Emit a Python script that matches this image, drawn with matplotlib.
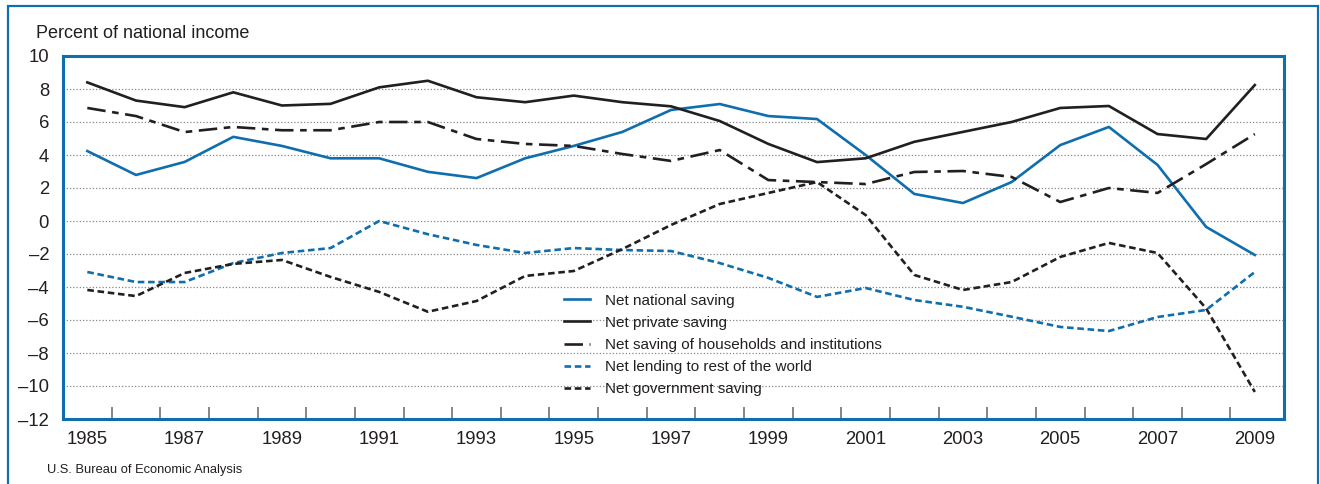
import matplotlib.pyplot as plt
import matplotlib.font_manager as fm
from matplotlib.patches import Rectangle
import numpy as np

# data (percent of national income)
years = list(range(1985, 2010))
net_national = [4.24, 2.79, 3.58, 5.10, 4.55, 3.80, 3.80, 2.98, 2.60, 3.80, 4.55, 5.40,
                6.73, 7.09, 6.36, 6.18, 4.00, 1.64, 1.09, 2.36, 4.60, 5.70, 3.40, -0.36, -2.06]
net_private = [8.40, 7.30, 6.90, 7.80, 7.00, 7.10, 8.10, 8.50, 7.50, 7.20, 7.60, 7.20,
               6.95, 6.06, 4.67, 3.57, 3.80, 4.80, 5.40, 6.00, 6.85, 6.97, 5.27, 4.97, 8.24]
net_households = [6.85, 6.36, 5.39, 5.70, 5.50, 5.50, 6.00, 6.00, 4.97, 4.67, 4.55, 4.06,
                  3.64, 4.30, 2.48, 2.36, 2.24, 2.97, 3.03, 2.67, 1.15, 2.00, 1.70, 3.45, 5.27]
net_lending = [-3.09, -3.70, -3.70, -2.55, -1.94, -1.64, 0.00, -0.80, -1.45, -1.94, -1.64, -1.76,
               -1.82, -2.55, -3.45, -4.60, -4.06, -4.79, -5.20, -5.80, -6.42, -6.67, -5.82, -5.39, -3.09]
net_government = [-4.18, -4.55, -3.15, -2.60, -2.36, -3.39, -4.30, -5.50, -4.85, -3.33, -3.03, -1.70,
                   -0.24, 1.03, 1.70, 2.36, 0.36, -3.27, -4.18, -3.70, -2.18, -1.33, -1.94, -5.30, -10.36]
series_labels = ['Net national saving', 'Net private saving',
                 'Net saving of households and institutions',
                 'Net lending to rest of the world', 'Net government saving']
y_ticks = list(range(-12, 11, 2))
x_labels = list(range(1985, 2010, 2))

BLUE = '#0f6eae'
BLACK = '#231f20'

installed = {f.name for f in fm.fontManager.ttflist}
narrow = 'Liberation Sans Narrow' if 'Liberation Sans Narrow' in installed else 'Liberation Sans'
plt.rcParams['font.family'] = ['Liberation Sans', 'DejaVu Sans']

fig = plt.figure(figsize=(13.2, 4.84), dpi=100)
ax = fig.add_axes([63 / 1320, 1 - 419 / 484, (1284 - 63) / 1320, (419 - 56) / 484])

# outer frame of the figure panel
fig.patches.append(Rectangle((8 / 1320, -0.05), (1318 - 8) / 1320, 1.05 - 6 / 484,
                             transform=fig.transFigure, fill=False, edgecolor=BLUE,
                             linewidth=1.6, zorder=0))

lw = 1.9
ax.plot(years, net_national, color=BLUE, lw=lw, label=series_labels[0])
ax.plot(years, net_private, color=BLACK, lw=lw, label=series_labels[1])
ax.plot(years, net_households, color=BLACK, lw=lw, dashes=(7, 2.5, 2.5, 2.5),
        label=series_labels[2])
ax.plot(years, net_lending, color=BLUE, lw=lw, dashes=(2.5, 1.4), label=series_labels[3])
ax.plot(years, net_government, color=BLACK, lw=lw, dashes=(2.5, 1.4), label=series_labels[4])

ax.set_xlim(1984.5, 2009.6)
ax.set_ylim(-12, 10)
ax.set_yticks(y_ticks)
ax.set_yticklabels([str(v).replace('-', '\u2013') for v in y_ticks])
ax.set_xticks(x_labels)
ax.set_xticks(np.arange(1985.5, 2009, 1), minor=True)
ax.tick_params(axis='x', which='major', length=0, labelsize=13.3, pad=9, colors='#231f20')
ax.tick_params(axis='x', which='minor', direction='in', length=8.5, width=1.1,
               color='#666666', top=False)
ax.tick_params(axis='y', length=0, labelsize=13.3, pad=10, colors='#231f20')

for v in y_ticks[1:-1]:
    ax.axhline(v, color='#888888', lw=0.9, ls=(0, (1, 1.6)), zorder=0)

for s in ax.spines.values():
    s.set_color(BLUE)
    s.set_linewidth(2.2)

ax.text(-0.0225, 1.05, 'Percent of national income', transform=ax.transAxes,
        fontsize=13, color='#231f20', ha='left', va='baseline')

leg = ax.legend(loc='upper left', bbox_to_anchor=(0.405, 0.362), frameon=False,
                prop={'family': narrow, 'size': 11}, handlelength=1.75,
                handletextpad=0.95, labelspacing=0.53, borderaxespad=0)
for t in leg.get_texts():
    t.set_color('#231f20')

fig.text(47 / 1320, 1 - 470 / 484, 'U.S. Bureau of Economic Analysis',
         family=narrow, fontsize=9.3, color='#231f20', ha='left', va='center')

fig.savefig('out.png', dpi=100)
